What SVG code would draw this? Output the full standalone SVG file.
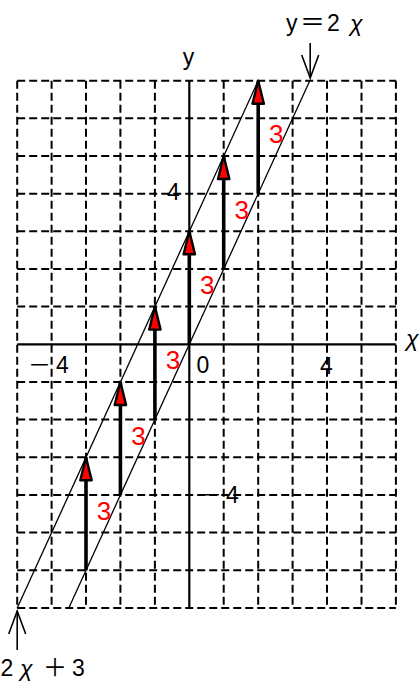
<svg xmlns="http://www.w3.org/2000/svg" width="419" height="683" viewBox="0 0 419 683">
<style>
.grid{stroke:#000;stroke-width:2;stroke-dasharray:8 4;fill:none}
.axis{stroke:#000;stroke-width:2.2;fill:none}
.slope{stroke:#000;stroke-width:1.3;fill:none}
.shaft{stroke:#000;stroke-width:3.6;fill:none;marker-end:url(#redHead)}
.ptr{stroke:#000;stroke-width:1.6;fill:none;marker-end:url(#openV)}
.lbl{font-family:"Liberation Sans","Noto Sans CJK JP",sans-serif;font-size:23px;fill:#000}
.fw{font-family:"Noto Sans CJK JP",sans-serif}
.three{font-family:"Liberation Sans",sans-serif;font-size:26px;fill:#ff0000;text-anchor:middle}
.chi{font-style:italic}
</style>
<defs>
<marker id="redHead" markerUnits="userSpaceOnUse" viewBox="0 0 28 16" markerWidth="28" markerHeight="16" refX="25" refY="8" orient="auto" overflow="visible">
<path d="M25,8 L2,2.3 L2,13.7 Z" fill="#ff0000" stroke="#000" stroke-width="2.4" stroke-linejoin="round"/>
</marker>
<marker id="openV" markerUnits="userSpaceOnUse" viewBox="0 0 26 20" markerWidth="26" markerHeight="20" refX="24" refY="10" orient="auto" overflow="visible">
<path d="M1,1.5 L24,10 L1,18.5" fill="none" stroke="#000" stroke-width="1.6"/>
</marker>
</defs>
<g id="grid">
<line class="grid" x1="17.2" y1="80.7" x2="17.2" y2="607.9"/>
<line class="grid" x1="51.6" y1="80.7" x2="51.6" y2="607.9"/>
<line class="grid" x1="86" y1="80.7" x2="86" y2="607.9"/>
<line class="grid" x1="120.4" y1="80.7" x2="120.4" y2="607.9"/>
<line class="grid" x1="154.9" y1="80.7" x2="154.9" y2="607.9"/>
<line class="grid" x1="223.7" y1="80.7" x2="223.7" y2="607.9"/>
<line class="grid" x1="258.2" y1="80.7" x2="258.2" y2="607.9"/>
<line class="grid" x1="292.6" y1="80.7" x2="292.6" y2="607.9"/>
<line class="grid" x1="327" y1="80.7" x2="327" y2="607.9"/>
<line class="grid" x1="361.5" y1="80.7" x2="361.5" y2="607.9"/>
<line class="grid" x1="395.9" y1="80.7" x2="395.9" y2="607.9"/>
<line class="grid" x1="17.2" y1="80.7" x2="395.9" y2="80.7"/>
<line class="grid" x1="17.2" y1="118.3" x2="395.9" y2="118.3"/>
<line class="grid" x1="17.2" y1="156" x2="395.9" y2="156"/>
<line class="grid" x1="17.2" y1="193.7" x2="395.9" y2="193.7"/>
<line class="grid" x1="17.2" y1="231.3" x2="395.9" y2="231.3"/>
<line class="grid" x1="17.2" y1="269" x2="395.9" y2="269"/>
<line class="grid" x1="17.2" y1="306.6" x2="395.9" y2="306.6"/>
<line class="grid" x1="17.2" y1="382" x2="395.9" y2="382"/>
<line class="grid" x1="17.2" y1="419.6" x2="395.9" y2="419.6"/>
<line class="grid" x1="17.2" y1="457.3" x2="395.9" y2="457.3"/>
<line class="grid" x1="17.2" y1="494.9" x2="395.9" y2="494.9"/>
<line class="grid" x1="17.2" y1="532.6" x2="395.9" y2="532.6"/>
<line class="grid" x1="17.2" y1="570.3" x2="395.9" y2="570.3"/>
<line class="grid" x1="17.2" y1="607.9" x2="395.9" y2="607.9"/>
</g>
<g id="axes">
<line class="axis" x1="17.2" y1="344.3" x2="395.9" y2="344.3"/>
<line class="axis" x1="189.3" y1="80.7" x2="189.3" y2="607.9"/>
</g>
<g id="lines">
<line id="line-2x3" class="slope" x1="17.2" y1="607.9" x2="258.2" y2="80.7"/>
<line id="line-2x" class="slope" x1="68.8" y1="607.9" x2="309.8" y2="80.7"/>
</g>
<g id="connectors">
<line class="shaft" x1="86" y1="570.3" x2="86" y2="457.3"/>
<line class="shaft" x1="120.4" y1="494.9" x2="120.4" y2="382"/>
<line class="shaft" x1="154.9" y1="419.6" x2="154.9" y2="306.6"/>
<line class="shaft" x1="189.3" y1="344.3" x2="189.3" y2="231.3"/>
<line class="shaft" x1="223.7" y1="269" x2="223.7" y2="156"/>
<line class="shaft" x1="258.2" y1="193.7" x2="258.2" y2="80.7"/>
<line class="ptr" x1="310.2" y1="43" x2="310.2" y2="78"/>
<line class="ptr" x1="17.2" y1="650" x2="17.2" y2="611"/>
</g>
<g id="shift-labels">
<text class="three" x="104" y="520">3</text>
<text class="three" x="138.4" y="444.7">3</text>
<text class="three" x="172.9" y="369">3</text>
<text class="three" x="207.3" y="294">3</text>
<text class="three" x="241.7" y="218.5">3</text>
<text class="three" x="276.2" y="143">3</text>
</g>
<g id="axis-labels">
<text class="lbl" x="28" y="373"><tspan class="fw">－</tspan><tspan x="56">4</tspan></text>
<text class="lbl" x="196.5" y="373">0</text>
<text class="lbl" x="320" y="374">4</text>
<text class="lbl" x="167" y="200">4</text>
<text class="lbl" x="199" y="503"><tspan class="fw">－</tspan><tspan x="226">4</tspan></text>
<text class="lbl" x="188.5" y="65" text-anchor="middle">y</text>
<text class="lbl chi" x="406" y="346" font-size="24">χ</text>
</g>
<g id="line-labels">
<text class="lbl" x="286" y="31">y<tspan x="300" class="fw" font-size="25">＝</tspan><tspan x="327">2</tspan><tspan x="350" class="chi">χ</tspan></text>
<text class="lbl" x="0.5" y="676" font-size="24">2<tspan x="20" class="chi">χ</tspan><tspan x="43" class="fw" font-size="24">＋</tspan><tspan x="72">3</tspan></text>
</g>
</svg>
